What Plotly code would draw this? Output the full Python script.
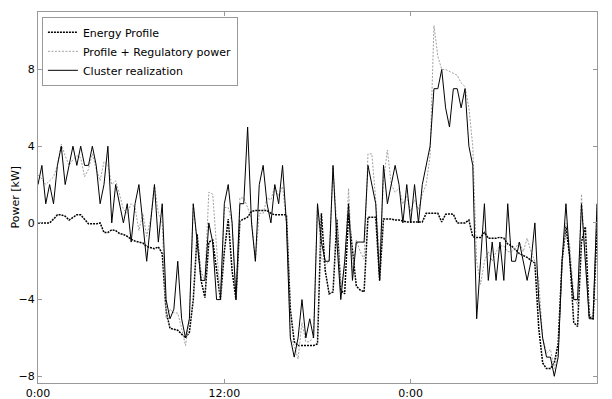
import numpy as np
import plotly.graph_objects as go

# Time axis: 15-minute steps over 36 hours (0:00 day 1 to 12:00 day 2)
hours = [i * 0.25 for i in range(145)]

energy_profile = [
    0, 0, 0, 0, 0.2, 0.42, 0.42, 0.35, 0.15, 0.3,
    0.42, 0.42, 0.2, -0.05, -0.05, -0.05, 0.0, -0.5, -0.5, -0.36,
    -0.4, -0.55, -0.6, -0.7, -0.85, -0.95, -1.0, -1.05, -1.23, -1.3,
    -1.35, -1.25, -1.6, -4.6, -5.5, -5.55, -5.6, -5.8, -6.0, -5.7,
    -4.0, -0.6, -3.0, -3.9, -1.0, -0.9, -2.5, -4.0, -1.5, 0.2,
    -2.5, -4.0, 0.1, 0.2, 0.3, 0.6, 0.65, 0.65, 0.65, 0.65,
    0.5, 0.42, 0.42, 0.42, 0.42, -4.5, -6.2, -6.4, -6.4, -6.4,
    -6.4, -6.4, -6.3, 0.5, -2.5, -3.7, -3.6, 0.2, -3.5, -3.7,
    0.5, -1.5, -3.3, -3.5, -3.6, 0.3, 0.3, 0.3, -3.0, 0.2,
    0.2, 0.2, 0.15, 0.15, 0.1, 0.05, 0.05, 0.05, 0.05, 0.05,
    0.5, 0.5, 0.5, 0.5, 0.05, 0.45, 0.47, 0.45, 0.0, 0.0,
    0.0, 0.15, -0.72, -0.76, -0.76, -0.5, -0.8, -0.8, -0.8, -0.75,
    -0.8, -1.1, -1.2, -1.4, -1.6, -1.7, -1.8, -1.95, -2.1, -5.5,
    -7.3, -7.6, -7.6, -7.3, -6.3, -2.0, -0.2, -1.8, -5.2, -5.4,
    -1.0, -0.2, -4.9, -5.0, -0.3,
]

profile_plus_reg = [
    2.5, 2.3, 2.0, 2.2, 2.4, 3.0, 4.1, 3.5, 3.0, 3.3,
    3.5, 3.4, 2.4, 2.8, 3.6, 2.8, 2.2, 3.2, 3.0, 2.0,
    2.2, 1.5, 0.7, 0.5, 1.0, 0.8, -0.4, 0.5, -0.7, 0.2,
    2.0, 0.5, 0.0, -5.0, -4.5, -4.7, -4.7, -5.5, -6.4, -5.0,
    1.0, -1.0, -2.5, -3.0, 1.6, 1.5, -1.5, -4.0, 0.8, 0.8,
    0.0, -4.0, 1.3, 1.3, 0.8, 0.2, -2.0, 0.5, 0.5, 1.3,
    1.2, 1.9, 1.4, 1.9, 0.0, -6.0, -6.4, -7.1, -5.2, -6.2,
    -6.2, -5.9, 1.0, -1.8, -2.2, -2.0, 2.9, -0.2, -3.3, -2.3,
    1.8, -2.6, -0.9, -1.5, -1.9, 3.6, 3.6, 1.2, -1.9, 2.2,
    3.8, 2.0, 1.6, 1.8, 1.0, 1.4, 0.6, 1.2, 0.7, 1.5,
    2.0, 3.5, 10.3, 8.7, 8.0, 8.0, 7.9, 7.8, 7.7, 7.3,
    7.1, 6.0, 4.0, -2.0, -3.2, -2.0, -1.5, -2.0, -1.5, -1.2,
    -1.2, -1.5, -1.5, -1.3, -1.0, -1.5, -0.8, -1.5, -2.0, -3.0,
    -6.0, -6.8, -6.6, -7.6, -6.8, -2.0, 0.0, -1.2, -3.8, -4.3,
    1.5, -2.0, -4.7, -5.0, 1.0,
]

cluster_realization = [
    2, 3, 1, 2, 1, 3, 4, 2, 3, 4,
    3, 4, 3, 3, 4, 3, 1, 2, 4, 0,
    2, 1, 0, 1, -1, 1, 2, 0, -2, 0,
    2, -1, 1, -4, -5, -4.5, -2, -5, -6, -5,
    1, -1, -3, -3, 0, -1, -4, -4, 1, 2,
    0, -4, 1, 1, 5, 0, -2, 2, 3, 1,
    0, 2, 1, 3, 0, -6, -7, -6, -4, -6,
    -5, -6, 1, -1, -2, -2, 3, -1, -4, -2,
    1, -3, -1, -1, -1, 3, 2, 1, -3, 3,
    1, 2, 3, 2, 0, 2, 0, 2, 0, 2,
    3, 4, 7, 7, 8, 6, 5, 7, 7, 6,
    7, 4, 3, -5, -2, 1, -3, -1, -3, -1,
    -3, 1, -2, -2, -1, -2, -3, -2, 0, -4,
    -6, -7, -7, -8, -7, -2, 1, -2, -4, -4,
    1, -2, -5, -5, 1,
]

tick_vals = [0, 12, 24, 36]
tick_text = ["0:00", "12:00", "0:00", "12:00"]
y_ticks = [-8, -4, 0, 4, 8]

fig = go.Figure()
fig.add_trace(go.Scatter(
    x=hours, y=energy_profile, mode="lines", name="Energy Profile",
    line=dict(color="black", width=1.5, dash="2px,1px"),
))
fig.add_trace(go.Scatter(
    x=hours, y=profile_plus_reg, mode="lines", name="Profile + Regulatory power",
    line=dict(color="#a0a0a0", width=1, dash="2px,1.5px"),
))
fig.add_trace(go.Scatter(
    x=hours, y=cluster_realization, mode="lines", name="Cluster realization",
    line=dict(color="black", width=1),
))

axis_common = dict(
    showgrid=False, zeroline=False, showline=True, linecolor="#999999",
    linewidth=1, mirror="ticks", ticks="inside", ticklen=4, automargin=False,
    tickcolor="#999999", tickfont=dict(family="DejaVu Sans", size=11, color="black"),
)

fig.update_layout(
    width=612, height=399,
    margin=dict(l=38, r=15, t=12, b=16),
    paper_bgcolor="white", plot_bgcolor="white",
    font=dict(family="DejaVu Sans", size=11, color="black"),
    showlegend=True,
    legend=dict(
        x=0.007, y=0.987, xanchor="left", yanchor="top",
        bgcolor="white", bordercolor="#999999", borderwidth=1,
        font=dict(family="DejaVu Sans", size=11), itemwidth=30,
        tracegroupgap=0,
    ),
    xaxis=dict(range=[0, 36], tickvals=tick_vals, ticktext=tick_text, **axis_common),
    yaxis=dict(range=[-8.35, 11.0], tickvals=y_ticks, **axis_common),
    annotations=[dict(
        text="Power [kW]", xref="paper", yref="paper",
        x=(15 - 38) / 559, y=0.5, xanchor="center", yanchor="middle",
        textangle=-90, showarrow=False, font=dict(family="DejaVu Sans", size=11),
    )],
)

fig.write_html("out.html")
